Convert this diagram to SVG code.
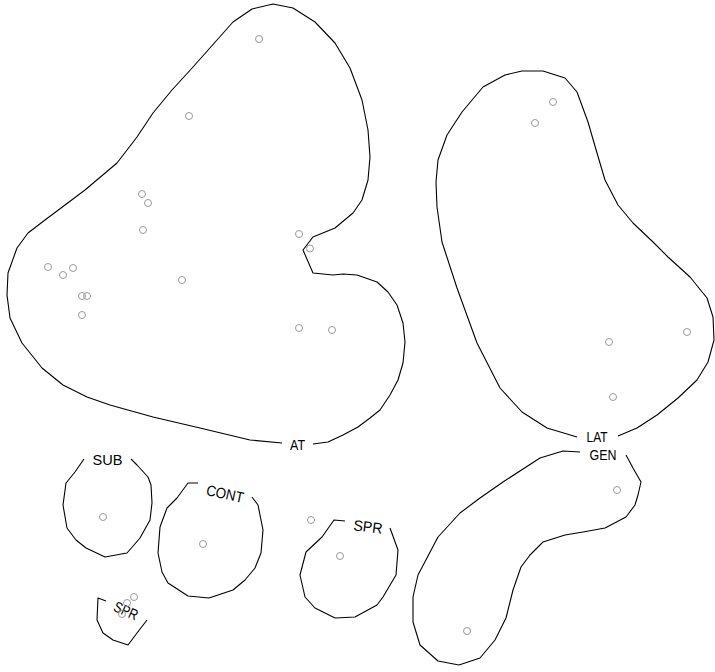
<svg xmlns="http://www.w3.org/2000/svg" width="715" height="672" viewBox="0 0 715 672">
<style>
.hull{fill:none;stroke:#000;stroke-width:1.1;stroke-linejoin:round}
.pt{fill:none;stroke:#999;stroke-width:1}
.lbl{font-family:"Liberation Sans",Arial,sans-serif;font-size:15px;fill:#000;text-anchor:middle}
</style>
<rect width="715" height="672" fill="#fff"/>
<g id="AT">
<polyline class="hull" points="313,444 328,442 343,435 358,427 370,418 380,410 390,395 398,380 403,363 405,342 403,323 397,305 388,292 377,282 357,275 343,274 333,275 313,273 303,250 313,237 335,228 353,213 362,200 368,180 370,157 368,130 362,100 350,68 335,43 315,22 293,8 273,4 252,9 233,22 217,40 193,67 172,90 153,113 137,137 117,163 85,190 45,220 28,233 17,248 8,273 7,295 10,318 22,343 42,368 63,385 87,397 110,405 153,417 200,428 250,440 282,443"/>
<text class="lbl" x="297.5" y="450" textLength="15" lengthAdjust="spacingAndGlyphs">AT</text>
<circle class="pt" cx="259" cy="39" r="3.5"/>
<circle class="pt" cx="189" cy="116" r="3.5"/>
<circle class="pt" cx="142" cy="194" r="3.5"/>
<circle class="pt" cx="148" cy="203" r="3.5"/>
<circle class="pt" cx="143" cy="230" r="3.5"/>
<circle class="pt" cx="299" cy="234" r="3.5"/>
<circle class="pt" cx="310" cy="248.5" r="3.5"/>
<circle class="pt" cx="48" cy="267" r="3.5"/>
<circle class="pt" cx="63" cy="275" r="3.5"/>
<circle class="pt" cx="73" cy="268" r="3.5"/>
<circle class="pt" cx="82" cy="296" r="3.5"/>
<circle class="pt" cx="87" cy="296" r="3.5"/>
<circle class="pt" cx="82" cy="315" r="3.5"/>
<circle class="pt" cx="182" cy="280" r="3.5"/>
<circle class="pt" cx="299" cy="328" r="3.5"/>
<circle class="pt" cx="332" cy="330" r="3.5"/>
</g>
<g id="LAT">
<polyline class="hull" points="618,436 637,428 657,415 678,398 697,380 708,362 714,340 713,317 707,298 690,277 668,257 653,242 633,223 618,205 605,180 597,153 588,122 577,92 565,78 543,71 522,71 505,75 483,87 462,112 447,135 438,160 436,182 437,207 442,242 457,288 477,343 500,388 522,412 547,428 577,437"/>
<text class="lbl" x="597" y="442" textLength="21" lengthAdjust="spacingAndGlyphs">LAT</text>
<circle class="pt" cx="553" cy="102" r="3.5"/>
<circle class="pt" cx="535" cy="123" r="3.5"/>
<circle class="pt" cx="609" cy="342" r="3.5"/>
<circle class="pt" cx="687" cy="332" r="3.5"/>
<circle class="pt" cx="613" cy="397" r="3.5"/>
</g>
<g id="GEN">
<polyline class="hull" points="626,455 633,468 641,482 638,495 635,505 626,517 605,528 583,532 565,535 543,542 530,555 521,567 513,590 506,618 495,640 480,658 459,665 438,661 420,645 413,622 413,597 418,575 438,537 460,513 480,498 503,482 540,458 563,451 580,452"/>
<text class="lbl" x="603" y="459.5" textLength="27" lengthAdjust="spacingAndGlyphs">GEN</text>
<circle class="pt" cx="617" cy="490" r="3.5"/>
<circle class="pt" cx="467" cy="631" r="3.5"/>
</g>
<g id="SUB">
<polyline class="hull" points="131,459 137,465 148,477 151,485 152,503 150,520 140,538 127,553 105,557 86,548 76,540 67,528 63,505 66,483 75,472 84,459"/>
<text class="lbl" x="107.5" y="465" textLength="30" lengthAdjust="spacingAndGlyphs">SUB</text>
<circle class="pt" cx="103" cy="517" r="3.5"/>
</g>
<g id="CONT">
<polyline class="hull" points="252,497 258,505 263,530 261,553 255,568 245,580 233,590 209,598 188,596 168,583 162,572 158,553 160,527 167,508 177,498 188,483 198,483"/>
<text class="lbl" x="225" y="499" textLength="38" lengthAdjust="spacingAndGlyphs" transform="rotate(12 225 494)">CONT</text>
<circle class="pt" cx="203" cy="544" r="3.5"/>
</g>
<g id="SPR1">
<polyline class="hull" points="106,601 98,598 97,620 103,633 113,640 128,645 137,633 147,620"/>
<text class="lbl" x="126" y="616" textLength="25" lengthAdjust="spacingAndGlyphs" transform="rotate(24 126 611)">SPR</text>
<circle class="pt" cx="134" cy="597" r="3.5"/>
<circle class="pt" cx="127" cy="603" r="3.5"/>
<circle class="pt" cx="122" cy="614" r="3.5"/>
</g>
<g id="SPR2">
<polyline class="hull" points="390,528 398,550 396,575 383,597 377,605 355,617 335,618 315,608 305,597 300,575 306,552 322,537 334,520 345,521"/>
<text class="lbl" x="368" y="532" textLength="29" lengthAdjust="spacingAndGlyphs" transform="rotate(7 368 527)">SPR</text>
<circle class="pt" cx="311" cy="520" r="3.5"/>
<circle class="pt" cx="340" cy="556" r="3.5"/>
</g>
</svg>
